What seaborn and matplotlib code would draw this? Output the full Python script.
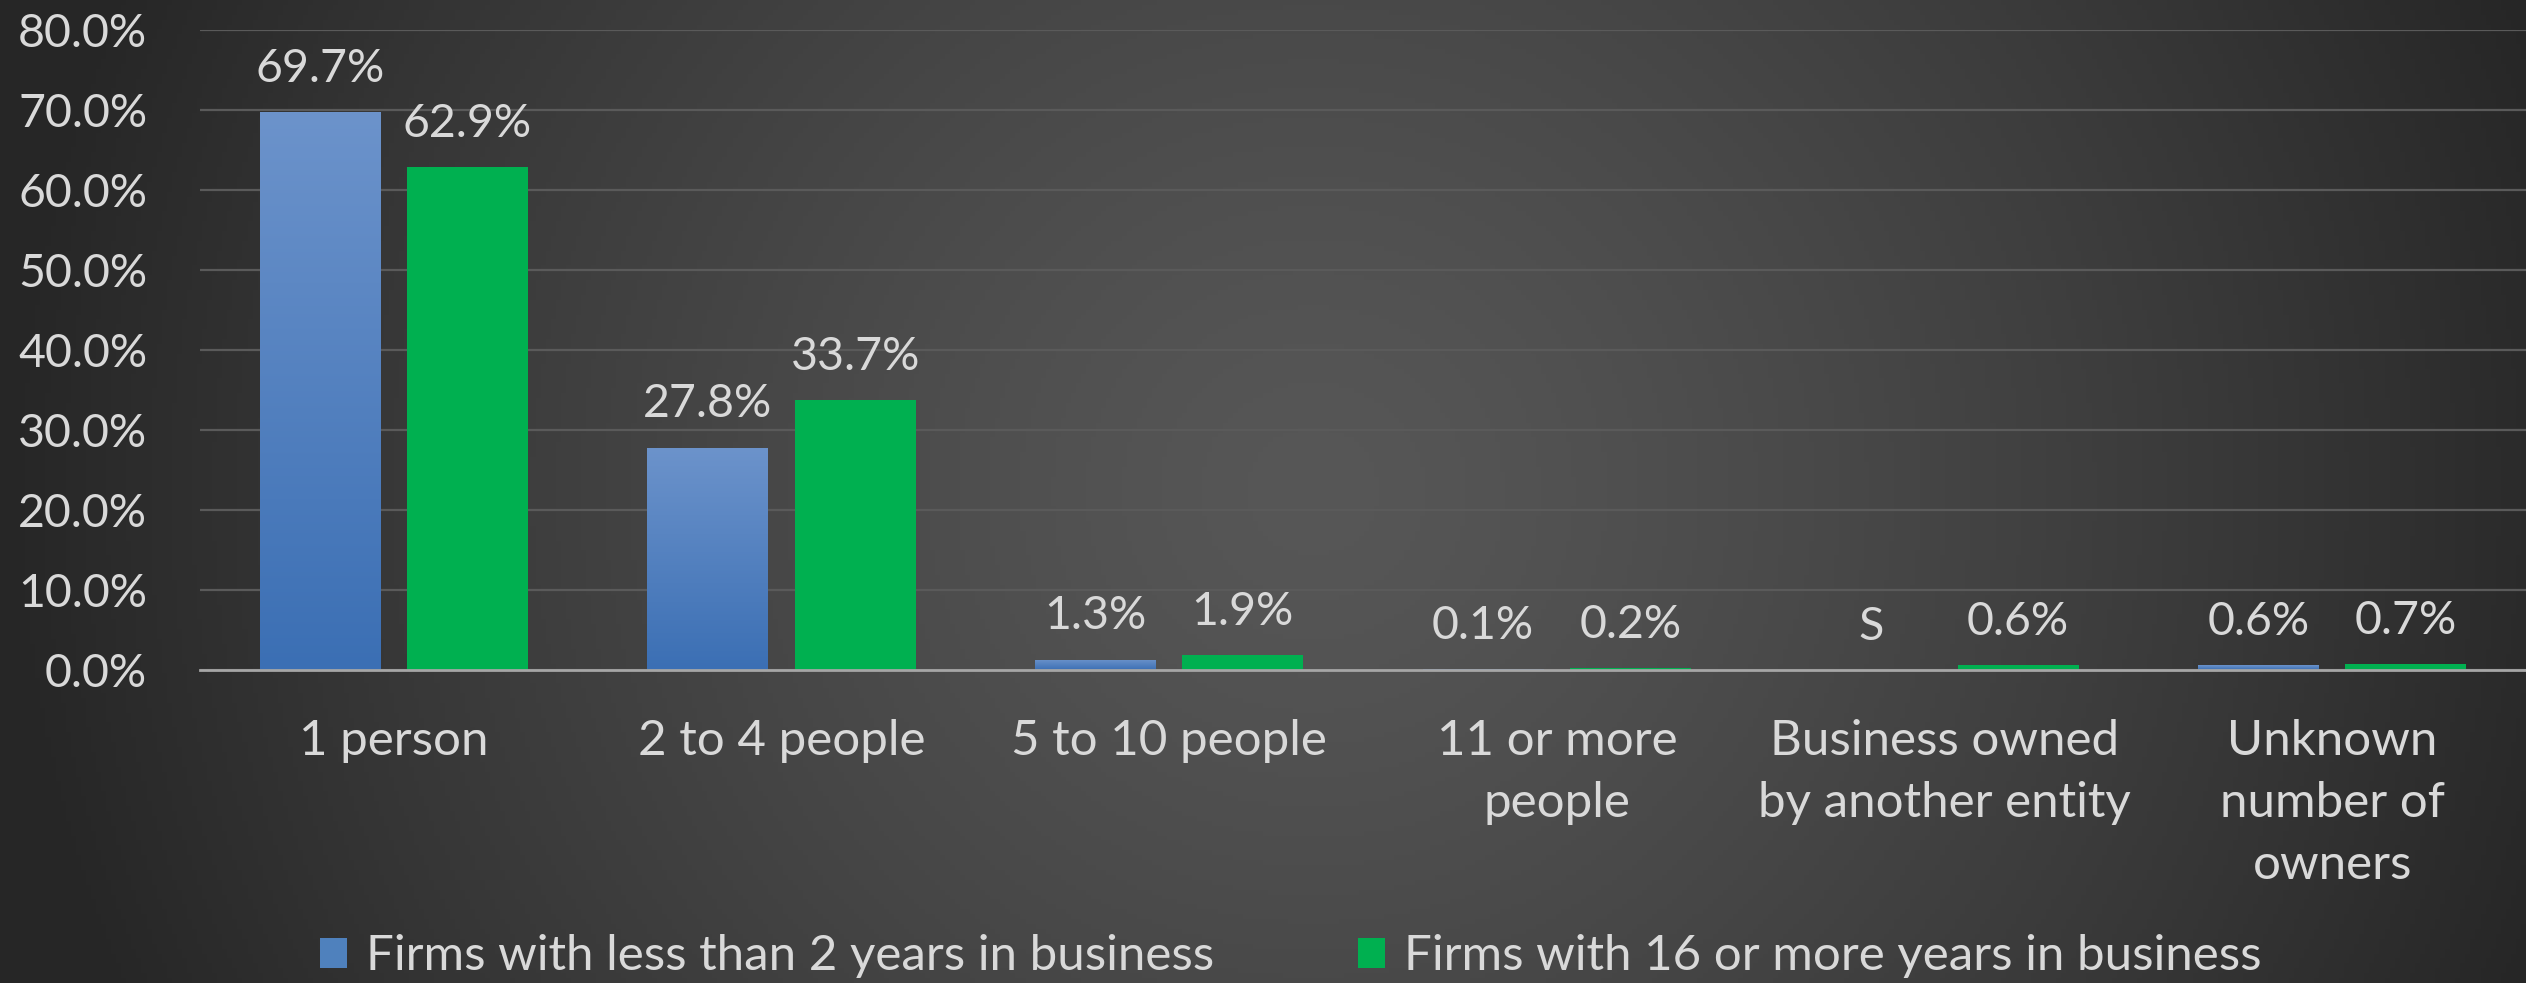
#!/usr/bin/env python3
import numpy as np
import pandas as pd
import matplotlib
matplotlib.use("Agg")
import matplotlib.pyplot as plt
import matplotlib.colors as mcolors
from matplotlib.patches import Patch
import seaborn as sns

categories = [
    "1 person",
    "2 to 4 people",
    "5 to 10 people",
    "11 or more\npeople",
    "Business owned\nby another entity",
    "Unknown\nnumber of\nowners",
]
series_names = [
    "Firms with less than 2 years in business",
    "Firms with 16 or more years in business",
]
young_values = [69.7, 27.8, 1.3, 0.1, np.nan, 0.6]   # nan = suppressed ("S")
old_values = [62.9, 33.7, 1.9, 0.2, 0.6, 0.7]
y_ticks = [0, 10, 20, 30, 40, 50, 60, 70, 80]

BLUE = "#4F81BD"
BLUE_TOP = "#6C93CB"
BLUE_BOTTOM = "#3B6FB4"
GREEN = "#00B050"
TEXT = "#D9D9D9"

sns.set_theme(style="white")
plt.rcParams["font.family"] = ["Lato", "DejaVu Sans"]
plt.rcParams["font.size"] = 33

df = pd.DataFrame({
    "category": categories * 2,
    "series": [series_names[0]] * len(categories) + [series_names[1]] * len(categories),
    "value": young_values + old_values,
})
df["plot_value"] = df["value"].fillna(0)

W, H = 2526, 983
fig = plt.figure(figsize=(W / 100, H / 100), dpi=100)

# dark radial background
bg = fig.add_axes([0, 0, 1, 1], zorder=-10)
xx, yy = np.meshgrid(np.linspace(0, 1, 500), np.linspace(0, 1, 200))
d = np.sqrt(((xx - 0.52) / 0.52) ** 2 + ((yy - 0.5) / 1.3) ** 2)
d = np.clip(d, 0, 1) ** 1.3
c_in = np.array(mcolors.to_rgb("#575757"))
c_out = np.array(mcolors.to_rgb("#262626"))
img = c_in[None, None, :] + (c_out - c_in)[None, None, :] * d[..., None]
bg.imshow(img, extent=[0, 1, 0, 1], aspect="auto", origin="upper")
bg.set_axis_off()

ax = fig.add_axes([200 / W, (H - 670) / H, (W - 200) / W, 640 / H])
ax.set_facecolor("none")

sns.barplot(
    data=df, x="category", y="plot_value", hue="series",
    hue_order=series_names, order=categories,
    palette=[BLUE, GREEN], width=0.76, gap=0.18,
    saturation=1, legend=False, ax=ax, zorder=3,
    linewidth=0, edgecolor="none",
)

# gradient fill on the blue bars
cmap = mcolors.LinearSegmentedColormap.from_list("bl", [BLUE_BOTTOM, BLUE_TOP])
grad = np.linspace(0, 1, 256).reshape(-1, 1)
for bar in ax.containers[0]:
    x0, y0 = bar.get_x(), bar.get_y()
    w, h = bar.get_width(), bar.get_height()
    if h <= 0:
        continue
    im = ax.imshow(grad, cmap=cmap, origin="lower", aspect="auto",
                   extent=[x0, x0 + w, y0, y0 + h], zorder=3.5)
    im.set_clip_path(bar)

# data labels
label_sets = [young_values, old_values]
for cont, vals in zip(ax.containers, label_sets):
    labels = ["S" if np.isnan(v) else f"{v:.1f}%" for v in vals]
    ax.bar_label(cont, labels=labels, padding=16, color=TEXT, fontsize=33.5, zorder=5)

ax.set_xlim(-0.5, len(categories) - 0.5)
ax.set_ylim(0, 80)
ax.set_yticks(y_ticks)
ax.set_yticklabels([f"{t:.1f}%" for t in y_ticks])
ax.yaxis.grid(True, color="#5A5A5A", linewidth=1.6, zorder=0)
ax.set_axisbelow(True)
ax.tick_params(axis="y", length=0, pad=38, colors=TEXT, labelsize=33.5)
ax.tick_params(axis="x", length=0, pad=35, colors=TEXT, labelsize=35.5)
for lab in ax.get_xticklabels():
    lab.set_linespacing(1.5)
    lab.set_verticalalignment("top")
ax.set_xlabel("")
ax.set_ylabel("")
for side in ["top", "right", "left"]:
    ax.spines[side].set_visible(False)
ax.spines["bottom"].set_color("#A6A6A6")
ax.spines["bottom"].set_linewidth(2)
ax.spines["bottom"].set_zorder(6)

handles = [Patch(facecolor=BLUE, edgecolor="none"), Patch(facecolor=GREEN, edgecolor="none")]
fig.legend(
    handles, series_names, loc="center", bbox_to_anchor=(0.511, 0.027),
    ncol=2, frameon=False, fontsize=35.5, labelcolor=TEXT,
    handlelength=0.55, handleheight=0.55, handletextpad=0.4, columnspacing=2.9,
)

fig.savefig("out.png", dpi=100)
